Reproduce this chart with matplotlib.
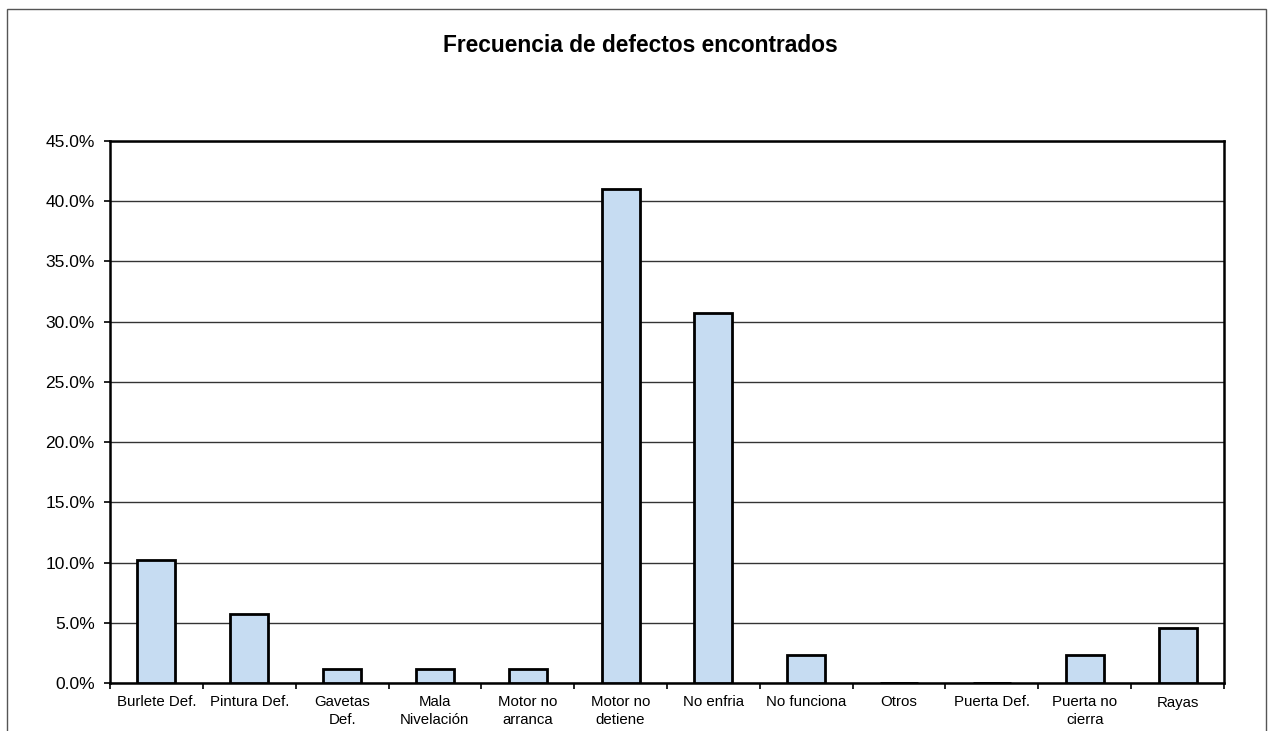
import matplotlib
matplotlib.use("Agg")
import matplotlib.pyplot as plt
from matplotlib.patches import Rectangle
from matplotlib.ticker import FuncFormatter, MultipleLocator, FixedLocator, NullFormatter

plt.rcParams['font.family'] = ['Liberation Sans', 'DejaVu Sans']

categories = ["Burlete Def.", "Pintura Def.", "Gavetas\nDef.", "Mala\nNivelación",
              "Motor no\narranca", "Motor no\ndetiene", "No enfria", "No funciona",
              "Otros", "Puerta Def.", "Puerta no\ncierra", "Rayas"]
values = [10.2, 5.7, 1.2, 1.2, 1.2, 41.0, 30.7, 2.3, 0.0, 0.0, 2.3, 4.6]
title = "Frecuencia de defectos encontrados"

W, H = 1272, 731
fig = plt.figure(figsize=(W / 100, H / 100), dpi=100)
fig.patch.set_facecolor("white")

# outer chart border
fig.add_artist(Rectangle((7 / W, -0.01), (1266 - 7) / W, 1.01 - 9 / H, transform=fig.transFigure,
                         fill=False, edgecolor="#555555", linewidth=1.0))

ax = fig.add_axes([110 / W, 1 - 683 / H, (1224 - 110) / W, (683 - 141) / H])
x = list(range(len(categories)))
ax.bar(x, values, width=0.41, color="#c6dcf2", edgecolor="black", linewidth=2.0, zorder=3)

ax.set_xlim(-0.5, len(categories) - 0.5)
ax.set_ylim(0, 45)
ax.yaxis.set_major_locator(MultipleLocator(5))
ax.yaxis.set_major_formatter(FuncFormatter(lambda v, p: f"{v:.1f}%"))
ax.grid(axis="y", color="#333333", linewidth=1.0, zorder=1)

ax.set_xticks(x)
ax.set_xticklabels(categories, fontsize=10.8, linespacing=1.3)
ax.tick_params(axis="x", which="major", length=0, pad=9)
ax.xaxis.set_minor_locator(FixedLocator([i + 0.5 for i in range(-1, len(categories))]))
ax.xaxis.set_minor_formatter(NullFormatter())
ax.tick_params(axis="x", which="minor", length=4, width=1.2, direction="out")
ax.tick_params(axis="y", length=4, width=1.2, direction="out", labelsize=12.5, pad=7)

for s in ax.spines.values():
    s.set_linewidth(1.8)
    s.set_color("black")

fig.text(640 / W, 1 - 46 / H, title, ha="center", va="center", fontsize=16.4, fontweight="bold")

fig.savefig("out.png", dpi=100)
